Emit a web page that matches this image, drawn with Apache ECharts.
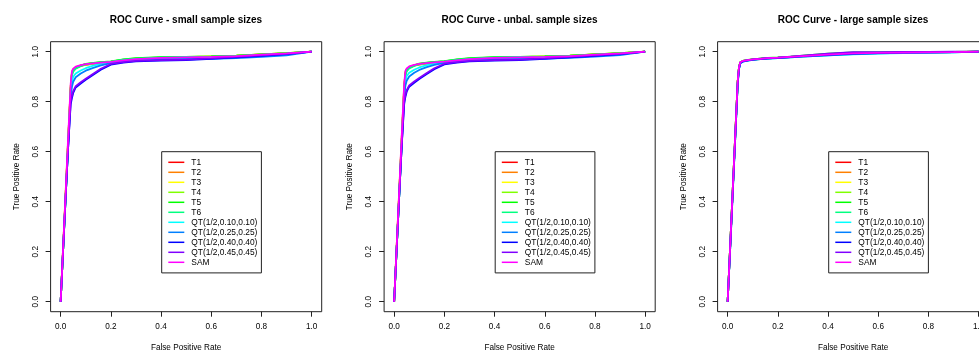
<!DOCTYPE html>
<html>
<head>
<meta charset="utf-8">
<script src="https://cdn.jsdelivr.net/npm/echarts@6/dist/echarts.min.js"></script>
<style>
  html, body { margin: 0; padding: 0; background: #fff; }
  #chart { width: 979px; height: 353px; }
</style>
</head>
<body>
<div id="chart"></div>
<script>
// panel titles
var panelTitles = ['ROC Curve - small sample sizes', 'ROC Curve - unbal. sample sizes', 'ROC Curve - large sample sizes'];
var seriesNames = ['T1', 'T2', 'T3', 'T4', 'T5', 'T6',
    'QT(1/2,0.10,0.10)', 'QT(1/2,0.25,0.25)', 'QT(1/2,0.40,0.40)', 'QT(1/2,0.45,0.45)', 'SAM'];
var axisTicks = [0, 0.2, 0.4, 0.6, 0.8, 1.0];

// false positive rate grid shared by every curve
var fpr = [0, 0.01, 0.02, 0.03, 0.04, 0.045, 0.05, 0.06, 0.08, 0.10, 0.13, 0.16, 0.20, 0.25, 0.30, 0.40, 0.50, 0.60, 0.70, 0.80, 0.90, 1.00];

// true positive rate, one row per series (same order as seriesNames)
var tprSmall = [
    [0, 0.22, 0.43, 0.65, 0.86, 0.915, 0.928, 0.937, 0.944, 0.948, 0.952, 0.955, 0.959, 0.966, 0.971, 0.976, 0.978, 0.980, 0.983, 0.989, 0.993, 1],
    [0, 0.21, 0.43, 0.64, 0.85, 0.912, 0.926, 0.935, 0.943, 0.947, 0.951, 0.955, 0.958, 0.965, 0.970, 0.975, 0.977, 0.980, 0.983, 0.988, 0.993, 1],
    [0, 0.22, 0.44, 0.65, 0.86, 0.918, 0.930, 0.938, 0.945, 0.949, 0.953, 0.956, 0.959, 0.966, 0.971, 0.976, 0.978, 0.981, 0.984, 0.989, 0.994, 1],
    [0, 0.21, 0.43, 0.64, 0.85, 0.914, 0.927, 0.936, 0.944, 0.950, 0.954, 0.957, 0.960, 0.968, 0.973, 0.977, 0.979, 0.981, 0.984, 0.989, 0.994, 1],
    [0, 0.21, 0.42, 0.64, 0.85, 0.910, 0.925, 0.935, 0.944, 0.951, 0.955, 0.958, 0.961, 0.969, 0.974, 0.978, 0.979, 0.981, 0.984, 0.989, 0.994, 1],
    [0, 0.21, 0.42, 0.63, 0.84, 0.905, 0.920, 0.932, 0.942, 0.949, 0.954, 0.957, 0.960, 0.968, 0.972, 0.977, 0.979, 0.980, 0.983, 0.988, 0.993, 1],
    [0, 0.21, 0.42, 0.63, 0.83, 0.880, 0.900, 0.913, 0.925, 0.934, 0.944, 0.951, 0.957, 0.964, 0.969, 0.974, 0.976, 0.977, 0.980, 0.985, 0.990, 1],
    [0, 0.21, 0.42, 0.62, 0.82, 0.860, 0.880, 0.898, 0.913, 0.924, 0.935, 0.945, 0.954, 0.961, 0.966, 0.970, 0.971, 0.971, 0.974, 0.979, 0.985, 1],
    [0, 0.21, 0.42, 0.62, 0.79, 0.815, 0.835, 0.857, 0.873, 0.888, 0.908, 0.928, 0.948, 0.956, 0.961, 0.964, 0.966, 0.971, 0.977, 0.983, 0.990, 1],
    [0, 0.21, 0.42, 0.62, 0.80, 0.825, 0.842, 0.862, 0.878, 0.892, 0.912, 0.932, 0.951, 0.958, 0.963, 0.966, 0.968, 0.973, 0.979, 0.985, 0.991, 1],
    [0, 0.22, 0.44, 0.66, 0.87, 0.922, 0.932, 0.940, 0.946, 0.950, 0.953, 0.956, 0.959, 0.965, 0.970, 0.975, 0.977, 0.979, 0.982, 0.988, 0.993, 1]
];
var tprUnbal = [
    [0, 0.22, 0.43, 0.65, 0.86, 0.917, 0.929, 0.938, 0.945, 0.949, 0.953, 0.956, 0.959, 0.966, 0.971, 0.976, 0.978, 0.980, 0.983, 0.989, 0.993, 1],
    [0, 0.21, 0.43, 0.64, 0.85, 0.913, 0.927, 0.936, 0.944, 0.948, 0.952, 0.955, 0.958, 0.965, 0.970, 0.975, 0.977, 0.980, 0.983, 0.988, 0.993, 1],
    [0, 0.22, 0.44, 0.65, 0.86, 0.918, 0.930, 0.939, 0.946, 0.950, 0.954, 0.957, 0.960, 0.966, 0.971, 0.976, 0.978, 0.981, 0.984, 0.989, 0.994, 1],
    [0, 0.21, 0.43, 0.64, 0.85, 0.915, 0.928, 0.937, 0.945, 0.951, 0.955, 0.958, 0.961, 0.968, 0.973, 0.977, 0.979, 0.981, 0.984, 0.989, 0.994, 1],
    [0, 0.21, 0.42, 0.64, 0.85, 0.911, 0.926, 0.936, 0.945, 0.952, 0.956, 0.959, 0.962, 0.969, 0.974, 0.978, 0.979, 0.981, 0.984, 0.989, 0.994, 1],
    [0, 0.21, 0.42, 0.63, 0.84, 0.906, 0.921, 0.933, 0.943, 0.950, 0.955, 0.958, 0.961, 0.968, 0.972, 0.977, 0.979, 0.980, 0.983, 0.988, 0.993, 1],
    [0, 0.21, 0.42, 0.63, 0.83, 0.885, 0.903, 0.916, 0.928, 0.937, 0.946, 0.952, 0.958, 0.964, 0.969, 0.974, 0.976, 0.977, 0.980, 0.985, 0.990, 1],
    [0, 0.21, 0.42, 0.62, 0.82, 0.865, 0.884, 0.901, 0.916, 0.927, 0.938, 0.947, 0.955, 0.961, 0.966, 0.970, 0.971, 0.972, 0.975, 0.980, 0.986, 1],
    [0, 0.21, 0.42, 0.62, 0.79, 0.820, 0.840, 0.860, 0.876, 0.891, 0.911, 0.930, 0.949, 0.956, 0.961, 0.964, 0.966, 0.971, 0.977, 0.983, 0.990, 1],
    [0, 0.21, 0.42, 0.62, 0.80, 0.828, 0.846, 0.865, 0.881, 0.895, 0.915, 0.934, 0.952, 0.958, 0.963, 0.966, 0.968, 0.973, 0.979, 0.985, 0.991, 1],
    [0, 0.22, 0.44, 0.66, 0.87, 0.923, 0.933, 0.941, 0.947, 0.951, 0.954, 0.957, 0.960, 0.965, 0.970, 0.975, 0.977, 0.979, 0.982, 0.988, 0.993, 1]
];
var tprLarge = [
    [0, 0.22, 0.44, 0.66, 0.88, 0.935, 0.957, 0.962, 0.966, 0.968, 0.971, 0.973, 0.975, 0.978, 0.981, 0.987, 0.992, 0.995, 0.996, 0.997, 0.998, 1],
    [0, 0.22, 0.44, 0.66, 0.88, 0.934, 0.956, 0.962, 0.965, 0.968, 0.970, 0.973, 0.975, 0.978, 0.981, 0.986, 0.991, 0.994, 0.996, 0.997, 0.998, 1],
    [0, 0.22, 0.44, 0.66, 0.88, 0.936, 0.958, 0.963, 0.966, 0.969, 0.971, 0.974, 0.976, 0.979, 0.982, 0.988, 0.993, 0.995, 0.996, 0.997, 0.998, 1],
    [0, 0.22, 0.44, 0.66, 0.88, 0.935, 0.957, 0.963, 0.966, 0.969, 0.972, 0.974, 0.976, 0.979, 0.983, 0.990, 0.995, 0.996, 0.997, 0.998, 0.999, 1],
    [0, 0.22, 0.44, 0.66, 0.88, 0.935, 0.958, 0.963, 0.967, 0.969, 0.972, 0.975, 0.977, 0.980, 0.984, 0.992, 0.997, 0.997, 0.998, 0.998, 0.999, 1],
    [0, 0.22, 0.44, 0.65, 0.87, 0.932, 0.956, 0.962, 0.966, 0.968, 0.971, 0.974, 0.976, 0.979, 0.982, 0.988, 0.993, 0.995, 0.996, 0.997, 0.998, 1],
    [0, 0.21, 0.43, 0.65, 0.87, 0.930, 0.954, 0.960, 0.964, 0.967, 0.970, 0.972, 0.974, 0.977, 0.980, 0.985, 0.989, 0.992, 0.994, 0.995, 0.997, 1],
    [0, 0.21, 0.43, 0.65, 0.87, 0.929, 0.953, 0.960, 0.964, 0.967, 0.970, 0.972, 0.974, 0.977, 0.980, 0.985, 0.990, 0.993, 0.995, 0.996, 0.997, 1],
    [0, 0.21, 0.43, 0.65, 0.87, 0.931, 0.955, 0.961, 0.965, 0.968, 0.971, 0.973, 0.975, 0.978, 0.982, 0.987, 0.992, 0.994, 0.996, 0.997, 0.998, 1],
    [0, 0.22, 0.44, 0.66, 0.88, 0.934, 0.957, 0.962, 0.966, 0.969, 0.972, 0.974, 0.976, 0.980, 0.984, 0.992, 0.998, 0.998, 0.999, 0.999, 1.000, 1],
    [0, 0.22, 0.44, 0.66, 0.88, 0.936, 0.958, 0.963, 0.966, 0.969, 0.971, 0.974, 0.976, 0.979, 0.982, 0.988, 0.993, 0.995, 0.996, 0.997, 0.998, 1]
];
var panelTpr = [tprSmall, tprUnbal, tprLarge];

// rainbow(11, end = 5/6)
var seriesColors = ['#FF0000', '#FF8000', '#FFFF00', '#80FF00', '#00FF00', '#00FF80',
    '#00FFFF', '#0080FF', '#0000FF', '#8000FF', '#FF00FF'];

var FONT = '"Liberation Sans", Arial, Helvetica, sans-serif';
var PANEL_DX = 333.5;

var chart = echarts.init(document.getElementById('chart'), null, {renderer: 'canvas'});

var titles = [], grids = [], xAxes = [], yAxes = [], legends = [], series = [];

function fmt(v) { return v.toFixed(1); }

panelTitles.forEach(function (t, p) {
    var dx = p * PANEL_DX;
    titles.push({
        text: t, left: 186 + dx, top: 15, textAlign: 'center', padding: 0,
        textStyle: {fontSize: 10, fontWeight: 'bold', color: '#000', fontFamily: FONT}
    });
    grids.push({
        left: 50.6 + dx, top: 41.7, width: 271.1, height: 270,
        containLabel: false, outerBoundsMode: 'none',
        show: true, borderColor: '#222', borderWidth: 1, backgroundColor: 'transparent'
    });
    xAxes.push({
        type: 'value', gridIndex: p, min: -0.04, max: 1.04,
        axisLine: {show: false, onZero: false},
        splitLine: {show: false},
        axisTick: {show: true, customValues: axisTicks, length: 5, lineStyle: {color: '#222', width: 1}},
        axisLabel: {customValues: axisTicks, formatter: fmt, margin: 11, fontSize: 8.2, color: '#000', fontFamily: FONT},
        name: 'False Positive Rate', nameLocation: 'middle', nameGap: 32,
        nameTextStyle: {fontSize: 8.2, color: '#000', fontFamily: FONT}
    });
    yAxes.push({
        type: 'value', gridIndex: p, min: -0.04, max: 1.04,
        axisLine: {show: false, onZero: false},
        splitLine: {show: false},
        axisTick: {show: true, customValues: axisTicks, length: 5, lineStyle: {color: '#222', width: 1}},
        axisLabel: {customValues: axisTicks, formatter: fmt, rotate: 90, margin: 11, fontSize: 8.2, color: '#000', fontFamily: FONT},
        name: 'True Positive Rate', nameLocation: 'middle', nameGap: 30,
        nameTextStyle: {fontSize: 8.2, color: '#000', fontFamily: FONT}
    });
    legends.push({
        left: 161.7 + dx, top: 151.7, orient: 'vertical',
        padding: [5.6, 4, 5.6, 6.6],
        itemWidth: 16, itemHeight: 1.5, itemGap: 0, icon: 'rect',
        borderColor: '#222', borderWidth: 1, backgroundColor: '#fff',
        selectedMode: false,
        textStyle: {fontSize: 8.4, lineHeight: 10, color: '#000', fontFamily: FONT, padding: [0, 0, 0, 2]},
        data: seriesNames
    });
    panelTpr[p].forEach(function (row, i) {
        series.push({
            type: 'line', name: seriesNames[i], xAxisIndex: p, yAxisIndex: p,
            symbol: 'none', showSymbol: false, silent: true,
            itemStyle: {color: seriesColors[i]},
            lineStyle: {color: seriesColors[i], width: 1.8},
            data: fpr.map(function (x, k) { return [x, row[k]]; })
        });
    });
});

chart.setOption({
    backgroundColor: '#fff',
    animation: false,
    title: titles,
    grid: grids,
    xAxis: xAxes,
    yAxis: yAxes,
    legend: legends,
    tooltip: {show: false},
    series: series
});
</script>
</body>
</html>
